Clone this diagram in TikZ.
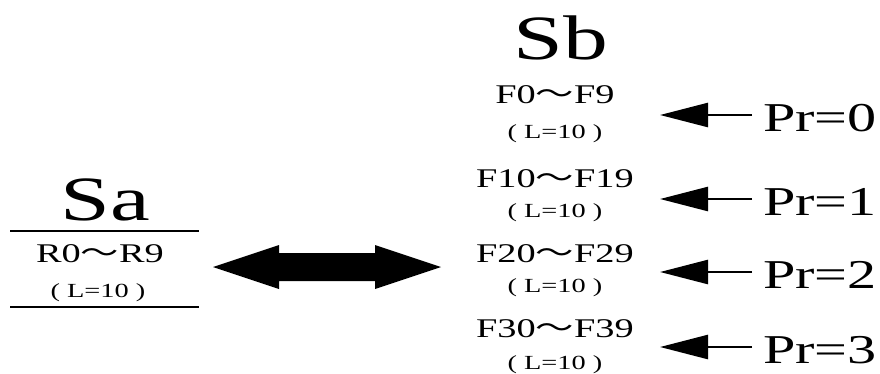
\documentclass[tikz,border=0pt]{standalone}
\usepackage{fontspec}
\usepackage{graphicx}
\setmainfont{Liberation Serif}
\newfontfamily\cjk{Noto Sans CJK SC}
\usetikzlibrary{arrows.meta}
% horizontally widened lettering
\newcommand{\wide}[1]{\scalebox{1.42}[1]{#1}}
\newcommand{\wave}{{\cjk ～}}
\begin{document}
\begin{tikzpicture}[x=1pt,y=-1pt,
  txt/.style={inner sep=0pt,anchor=base},
  bigtxt/.style={txt,font=\fontsize{63}{63}\selectfont},
  rangetxt/.style={txt,font=\fontsize{27}{27}\selectfont},
  lentxt/.style={txt,font=\fontsize{20}{20}\selectfont},
  priotxt/.style={inner sep=0pt,anchor=base west,font=\fontsize{41}{41}\selectfont},
  prarrow/.style={line width=2.5pt,-{Triangle[length=48pt,width=24pt]}},
  rulestroke/.style={line width=2pt}]
\useasboundingbox (0,0) rectangle (880,373);

% left store
\node[bigtxt]   (sa)  at (105,220) {\wide{Sa}};
\draw[rulestroke] (10,231) -- (199,231);
\node[rangetxt] (ra)  at (100,262) {\wide{R0\wave R9}};
\node[lentxt]   (la)  at (98,297)  {\wide{( L=10 )}};
\draw[rulestroke] (10,307) -- (199,307);

% exchange between the two stores
\coordinate (da) at (213,267);
\coordinate (db) at (441,267);
\fill (da) -- ++(66,-22) -- ++(0,8) -- ++(96,0) -- ++(0,-8) -- (db)
      -- ++(-66,22) -- ++(0,-8) -- ++(-96,0) -- ++(0,8) -- cycle;

% right store
\node[bigtxt]   (sb)  at (561,59)  {\wide{Sb}};
\node[rangetxt] (f0)  at (555,103) {\wide{F0\wave F9}};
\node[lentxt]   (l0)  at (555,138) {\wide{( L=10 )}};
\node[rangetxt] (f1)  at (555,187) {\wide{F10\wave F19}};
\node[lentxt]   (l1)  at (555,217) {\wide{( L=10 )}};
\node[rangetxt] (f2)  at (555,262) {\wide{F20\wave F29}};
\node[lentxt]   (l2)  at (555,292) {\wide{( L=10 )}};
\node[rangetxt] (f3)  at (555,337) {\wide{F30\wave F39}};
\node[lentxt]   (l3)  at (555,369) {\wide{( L=10 )}};

% priorities
\node[priotxt] (p0) at (763,131) {\wide{Pr=0}};
\node[priotxt] (p1) at (763,215) {\wide{Pr=1}};
\node[priotxt] (p2) at (763,288) {\wide{Pr=2}};
\node[priotxt] (p3) at (763,363) {\wide{Pr=3}};

\coordinate (t0) at (660,115);
\coordinate (t1) at (660,199);
\coordinate (t2) at (660,272);
\coordinate (t3) at (660,347);
\draw[prarrow] ([shift={(-11,-16)}]p0.base west) -- (t0);
\draw[prarrow] ([shift={(-11,-16)}]p1.base west) -- (t1);
\draw[prarrow] ([shift={(-11,-16)}]p2.base west) -- (t2);
\draw[prarrow] ([shift={(-11,-16)}]p3.base west) -- (t3);
\end{tikzpicture}
\end{document}
